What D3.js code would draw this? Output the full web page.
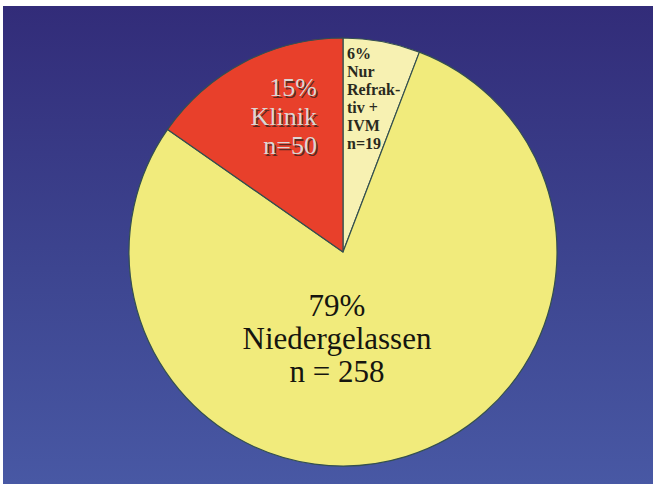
<!DOCTYPE html>
<html>
<head>
<meta charset="utf-8">
<script src="https://cdn.jsdelivr.net/npm/d3@7"></script>
<style>
  html, body { margin: 0; padding: 0; background: #ffffff; }
  svg { display: block; }
</style>
</head>
<body>
<svg id="chart" width="654" height="484"></svg>
<script>
// Patients by place of treatment (clockwise from 12 o'clock)
const categories = ["Nur Refraktiv + IVM", "Niedergelassen", "Klinik"];
const counts = [19, 258, 50];
const sliceColors = ["#f7f1b2", "#f1eb7c", "#e8402b"];

// Label lines per slice (percent line is computed from the counts)
const labelLines = [
  ["Nur", "Refrak-", "tiv +", "IVM", "n=19"],
  ["Niedergelassen", "n = 258"],
  ["Klinik", "n=50"]
];

const W = 654, H = 484;
const svg = d3.select("#chart");

// Blue backdrop with a vertical gradient
const defs = svg.append("defs");
const grad = defs.append("linearGradient")
  .attr("id", "bg").attr("x1", 0).attr("y1", 0).attr("x2", 0).attr("y2", 1);
grad.append("stop").attr("offset", "0%").attr("stop-color", "#322c79");
grad.append("stop").attr("offset", "55%").attr("stop-color", "#3d4590");
grad.append("stop").attr("offset", "100%").attr("stop-color", "#4858a4");

svg.append("rect")
  .attr("x", 3).attr("y", 6)
  .attr("width", W - 4).attr("height", H - 6)
  .attr("fill", "url(#bg)");

const cx = 343, cy = 252, radius = 214;
const total = d3.sum(counts);
const pct = counts.map(v => Math.round(v / total * 100) + "%");

const pie = d3.pie().sort(null).value(d => d);
const arcs = pie(counts);
const arc = d3.arc().innerRadius(0).outerRadius(radius);

const g = svg.append("g").attr("transform", `translate(${cx},${cy})`);

g.selectAll("path.slice")
  .data(arcs)
  .join("path")
  .attr("class", "slice")
  .attr("d", arc)
  .attr("fill", (d, i) => sliceColors[i])
  .attr("stroke", "#34504f")
  .attr("stroke-width", 1.2)
  .attr("stroke-linejoin", "round");

const serif = "'Liberation Serif', 'Times New Roman', serif";

// Small slice: left-aligned stacked label just right of the top radius
const small = g.append("text")
  .attr("font-family", serif)
  .attr("font-size", 16)
  .attr("font-weight", "bold")
  .attr("fill", "#2a2a1e");
[pct[0], ...labelLines[0]].forEach((t, k) => {
  small.append("tspan").attr("x", 4).attr("y", -193 + k * 18).text(t);
});

// Large slice: centered label
const big = g.append("text")
  .attr("font-family", serif)
  .attr("font-size", 31)
  .attr("fill", "#15150f")
  .attr("text-anchor", "middle");
[pct[1], ...labelLines[1]].forEach((t, k) => {
  big.append("tspan").attr("x", -6).attr("y", 64 + k * 33).text(t);
});

// Red slice: embossed, right-aligned label
const klinikLines = [pct[2], ...labelLines[2]];
[{dx: 1.5, dy: 1.5, fill: "#5b2a22"}, {dx: 0, dy: 0, fill: "#dcd6d4"}].forEach(layer => {
  const t = g.append("text")
    .attr("font-family", serif)
    .attr("font-size", 26)
    .attr("fill", layer.fill)
    .attr("text-anchor", "end");
  klinikLines.forEach((s, k) => {
    t.append("tspan")
      .attr("x", -26 + layer.dx)
      .attr("y", -156 + k * 29 + layer.dy)
      .text(s);
  });
});
</script>
</body>
</html>
